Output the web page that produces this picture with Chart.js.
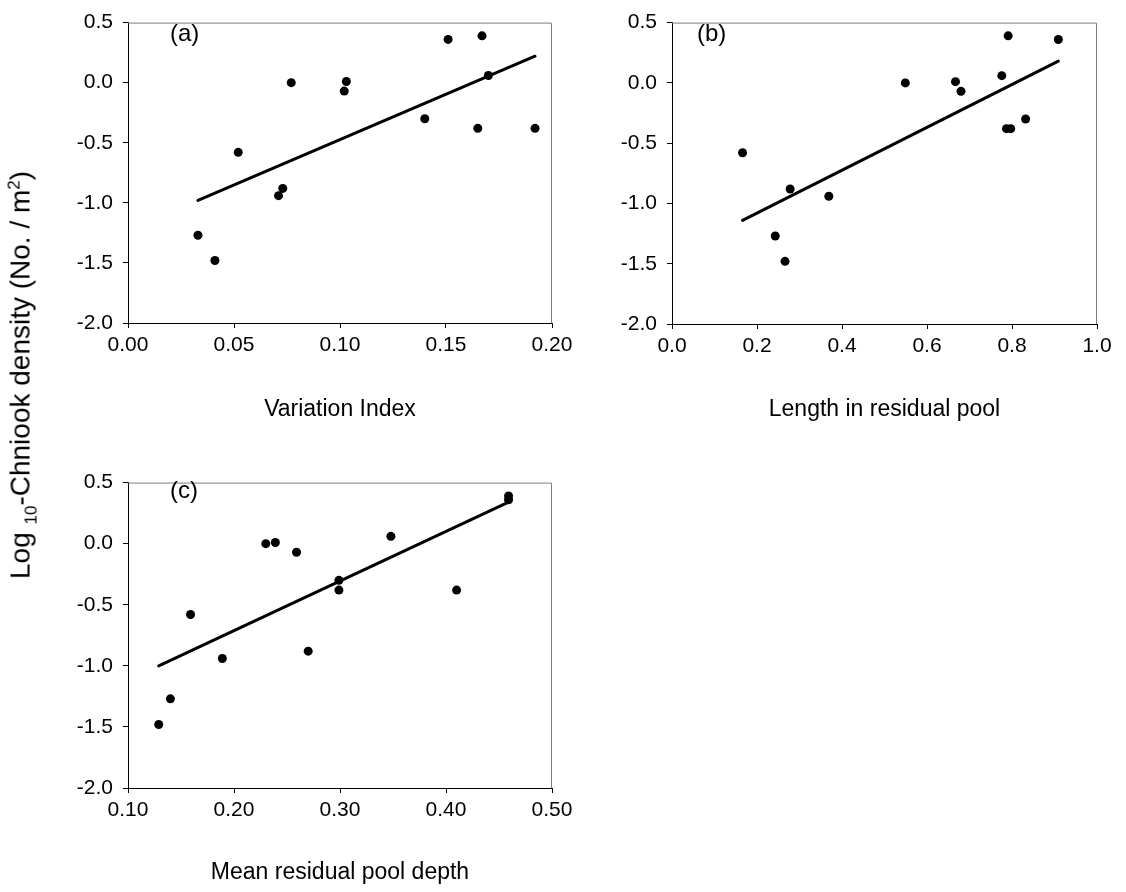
<!DOCTYPE html>
<html>
<head>
<meta charset="utf-8">
<script src="https://cdn.jsdelivr.net/npm/chart.js@4.4.1/dist/chart.umd.min.js"></script>
<style>
    body { margin: 0; background: #fff; width: 1126px; height: 892px; position: relative; overflow: hidden; }
    canvas { position: absolute; }
    #y-title {
        position: absolute; left: 23px; top: 375px;
        transform: translate(-50%, -50%) rotate(-90deg);
        white-space: nowrap; font-family: "Liberation Sans", Arial, sans-serif; font-size: 28px; color: #000;
    }
    #y-title sub, #y-title sup { font-size: 17px; }
</style>
</head>
<body>
<canvas id="chartA" width="580" height="440" style="left:0;top:0"></canvas>
<canvas id="chartB" width="566" height="440" style="left:560px;top:0"></canvas>
<canvas id="chartC" width="580" height="432" style="left:0;top:460px"></canvas>
<div id="y-title">Log <sub>10</sub>-Chniook density (No. / m<sup>2</sup>)</div>

<script>
// 14 sites, same log density on every panel
const logDensity     = [-1.27, -1.48, -0.58, -0.94, -0.88, 0.00, -0.07, 0.01, -0.30, 0.36, -0.38, 0.39, 0.06, -0.38];
const variationIndex = [0.033, 0.041, 0.052, 0.071, 0.073, 0.077, 0.102, 0.103, 0.140, 0.151, 0.165, 0.167, 0.170, 0.192];
const lengthInPool   = [0.243, 0.266, 0.166, 0.369, 0.278, 0.549, 0.680, 0.667, 0.832, 0.909, 0.787, 0.791, 0.776, 0.797];
const poolDepth      = [0.140, 0.129, 0.159, 0.189, 0.270, 0.230, 0.259, 0.239, 0.299, 0.459, 0.299, 0.459, 0.348, 0.410];

// regression lines (start, end)
const fitA_x = [0.033, 0.192], fitA_y = [-0.98, 0.22];
const fitB_x = [0.166, 0.909], fitB_y = [-1.14, 0.18];
const fitC_x = [0.129, 0.459], fitC_y = [-1.00, 0.34];

// axis ticks
const yTicks  = [-2.0, -1.5, -1.0, -0.5, 0.0, 0.5];
const xTicksA = [0.00, 0.05, 0.10, 0.15, 0.20];
const xTicksB = [0.0, 0.2, 0.4, 0.6, 0.8, 1.0];
const xTicksC = [0.10, 0.20, 0.30, 0.40, 0.50];

const FONT = "'Liberation Sans', Arial, sans-serif";

// gray box on top / right, plus the (a)(b)(c) tag
const frameAndTag = {
    id: 'frameAndTag',
    afterDraw(chart, args, opts) {
        const { ctx, chartArea: a } = chart;
        ctx.save();
        ctx.strokeStyle = '#7f7f7f';
        ctx.lineWidth = 1;
        ctx.beginPath();
        ctx.moveTo(a.left, a.top + 0.5);
        ctx.lineTo(a.right - 0.5, a.top + 0.5);
        ctx.lineTo(a.right - 0.5, a.bottom);
        ctx.stroke();
        ctx.fillStyle = '#000';
        ctx.font = `24px ${FONT}`;
        ctx.textBaseline = 'alphabetic';
        ctx.fillText(opts.text, a.left + opts.dx, a.top + opts.dy);
        ctx.restore();
    }
};

function makePanel(id, xs, fitX, fitY, xTicks, xMin, xMax, decimals, xTitle, box) {
    const tickFont = { family: FONT, size: 21 };
    const titleFont = { family: FONT, size: 23 };
    return new Chart(document.getElementById(id), {
        type: 'scatter',
        data: {
            datasets: [
                {
                    data: xs.map((x, i) => ({ x: x, y: logDensity[i] })),
                    pointRadius: 4.5,
                    pointBackgroundColor: '#000',
                    pointBorderWidth: 0,
                    order: 1
                },
                {
                    data: fitX.map((x, i) => ({ x: x, y: fitY[i] })),
                    showLine: true,
                    borderColor: '#000',
                    borderWidth: 3,
                    borderCapStyle: 'round',
                    pointRadius: 0,
                    order: 2
                }
            ]
        },
        options: {
            responsive: false,
            animation: false,
            layout: { padding: { left: 0, right: box.pr, top: box.pt, bottom: 0 } },
            plugins: {
                legend: { display: false },
                tooltip: { enabled: false },
                frameAndTag: { text: box.tag, dx: box.tx, dy: box.ty }
            },
            scales: {
                x: {
                    type: 'linear',
                    min: xMin,
                    max: xMax,
                    afterBuildTicks: s => { s.ticks = xTicks.map(v => ({ value: v })); },
                    afterFit: s => { s.height = box.xh; },
                    ticks: { callback: v => v.toFixed(decimals), font: tickFont, color: '#000', padding: 5, maxRotation: 0, autoSkip: false },
                    grid: { drawOnChartArea: false, tickLength: 5, color: '#000' },
                    border: { color: '#000', width: 1 },
                    title: { display: true, text: xTitle, font: titleFont, color: '#000', padding: { top: 0, bottom: box.titlePad } }
                },
                y: {
                    min: -2,
                    max: 0.5,
                    afterBuildTicks: s => { s.ticks = yTicks.map(v => ({ value: v })); },
                    afterFit: s => { s.width = box.yw; },
                    ticks: { callback: v => v.toFixed(1), font: tickFont, color: '#000', padding: 10 },
                    grid: { drawOnChartArea: false, tickLength: 5, color: '#000' },
                    border: { color: '#000', width: 1 }
                }
            }
        },
        plugins: [frameAndTag]
    });
}

makePanel('chartA', variationIndex, fitA_x, fitA_y, xTicksA, 0, 0.2, 2, 'Variation Index',
    { yw: 128, xh: 117, pr: 28, pt: 17, titlePad: 17, tag: '(a)', tx: 42, ty: 18 });
makePanel('chartB', lengthInPool, fitB_x, fitB_y, xTicksB, 0, 1, 1, 'Length in residual pool',
    { yw: 112, xh: 116, pr: 29, pt: 17, titlePad: 17, tag: '(b)', tx: 25, ty: 18 });
makePanel('chartC', poolDepth, fitC_x, fitC_y, xTicksC, 0.1, 0.5, 2, 'Mean residual pool depth',
    { yw: 128, xh: 104, pr: 28, pt: 22, titlePad: 6, tag: '(c)', tx: 42, ty: 15 });
</script>
</body>
</html>
